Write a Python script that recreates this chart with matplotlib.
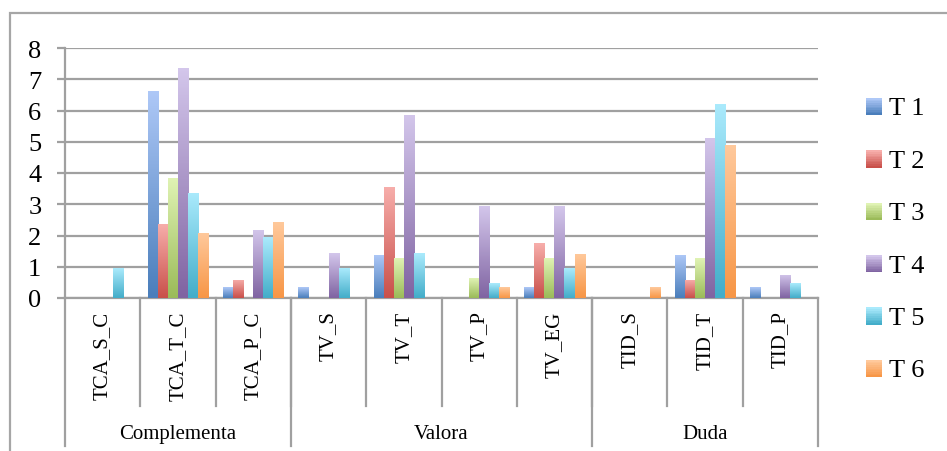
import numpy as np
import matplotlib
matplotlib.use("Agg")
import matplotlib.pyplot as plt
from matplotlib.colors import LinearSegmentedColormap, to_rgb
from matplotlib.patches import Rectangle
from matplotlib.legend_handler import HandlerBase

plt.rcParams['font.family'] = ['Liberation Serif', 'DejaVu Serif']

categories = ['TCA_S_C', 'TCA_T_C', 'TCA_P_C', 'TV_S', 'TV_T', 'TV_P', 'TV_EG',
              'TID_S', 'TID_T', 'TID_P']
groups = ['Complementa', 'Valora', 'Duda']
group_sizes = [3, 4, 3]
series = ['T 1', 'T 2', 'T 3', 'T 4', 'T 5', 'T 6']

t1 = [0, 6.64, 0.35, 0.35, 1.38, 0, 0.35, 0, 1.38, 0.35]
t2 = [0, 2.37, 0.58, 0, 3.56, 0, 1.76, 0, 0.58, 0]
t3 = [0, 3.85, 0, 0, 1.28, 0.64, 1.28, 0, 1.28, 0]
t4 = [0, 7.35, 2.18, 1.44, 5.87, 2.93, 2.93, 0, 5.13, 0.74]
t5 = [0.96, 3.37, 1.94, 0.96, 1.44, 0.48, 0.96, 0, 6.22, 0.48]
t6 = [0, 2.09, 2.44, 0, 0, 0.35, 1.41, 0.35, 4.91, 0]
values = [t1, t2, t3, t4, t5, t6]

# (dark bottom, light top)
colors = [('#4a7ebb', '#aec8f7'), ('#c9504a', '#f7aeab'), ('#9bbb59', '#e0f3b4'),
          ('#8064a2', '#d3c6eb'), ('#43adc9', '#aaeafc'), ('#f79646', '#ffc99c')]

fig = plt.figure(figsize=(9.47, 4.52), dpi=100)
ax = fig.add_axes([65 / 947, 1 - 299 / 452, 753 / 947, 250 / 452])

n = len(series)
w = 0.8 / n
x = np.arange(len(categories))
grad = np.linspace(1, 0, 64).reshape(-1, 1)
for i, (vals, (dark, light)) in enumerate(zip(values, colors)):
    cmap = LinearSegmentedColormap.from_list('g%d' % i, [dark, light])
    bars = ax.bar(x + (i - (n - 1) / 2) * w, vals, w, color=light, zorder=3, linewidth=0)
    for r in bars:
        h = r.get_height()
        if h <= 0:
            continue
        im = ax.imshow(grad, extent=[r.get_x(), r.get_x() + r.get_width(), 0, h],
                       cmap=cmap, vmin=0, vmax=1, aspect='auto', zorder=3.5,
                       interpolation='bilinear')
        im.set_clip_path(r)

ax.set_aspect('auto')
ax.set_xlim(-0.5, len(categories) - 0.5)
ax.set_ylim(0, 8)
ax.set_yticks(range(0, 9))
ax.yaxis.grid(True, color='#a0a0a0', linewidth=1.6, zorder=0)
ax.set_axisbelow(True)
ax.tick_params(axis='y', length=6, width=1.6, color='#a0a0a0', pad=11, labelsize=19)
ax.set_xticks([])
for s in ['top', 'right']:
    ax.spines[s].set_visible(False)
for s in ['left', 'bottom']:
    ax.spines[s].set_color('#a0a0a0')
    ax.spines[s].set_linewidth(1.6)

# category separators and labels
tr = ax.get_xaxis_transform()
for k in range(1, len(categories)):
    ax.plot([k - 0.5, k - 0.5], [0, -0.432], transform=tr, color='#a0a0a0', lw=1.6, clip_on=False)
for k, c in enumerate(categories):
    ax.text(k, -0.05, c, transform=tr, rotation=90, ha='center', va='top', fontsize=15)

edges = np.concatenate([[0], np.cumsum(group_sizes)]) - 0.5
for e in edges:
    ax.plot([e, e], [0, -0.592], transform=tr, color='#a0a0a0', lw=1.6, clip_on=False)
for g, a, b in zip(groups, edges[:-1], edges[1:]):
    ax.text((a + b) / 2, -0.544, g, transform=tr, ha='center', va='center', fontsize=15)


class GradHandler(HandlerBase):
    def create_artists(self, legend, orig, xd, yd, width, height, fontsize, trans):
        dark, light = orig
        arts = []
        steps = 10
        d, l = np.array(to_rgb(dark)), np.array(to_rgb(light))
        for j in range(steps):
            f = j / (steps - 1)
            arts.append(Rectangle((xd, yd + height * j / steps), width, height / steps + 0.2,
                                  facecolor=d + (l - d) * f, edgecolor='none', transform=trans))
        return arts


fig.legend(colors, series, handler_map={tuple: GradHandler()}, loc='center left',
           bbox_to_anchor=(866 / 947, 1 - 240 / 452), frameon=False, fontsize=19,
           handlelength=0.62, handleheight=0.62, handletextpad=0.25, labelspacing=1.12,
           borderpad=0, borderaxespad=0)

fig.patches.append(Rectangle((10 / 947, -0.1), 1.2, 1.1 - 14 / 452, transform=fig.transFigure,
                             fill=False, edgecolor='#a6a6a6', linewidth=1.6))

fig.savefig('out.png', dpi=100)
